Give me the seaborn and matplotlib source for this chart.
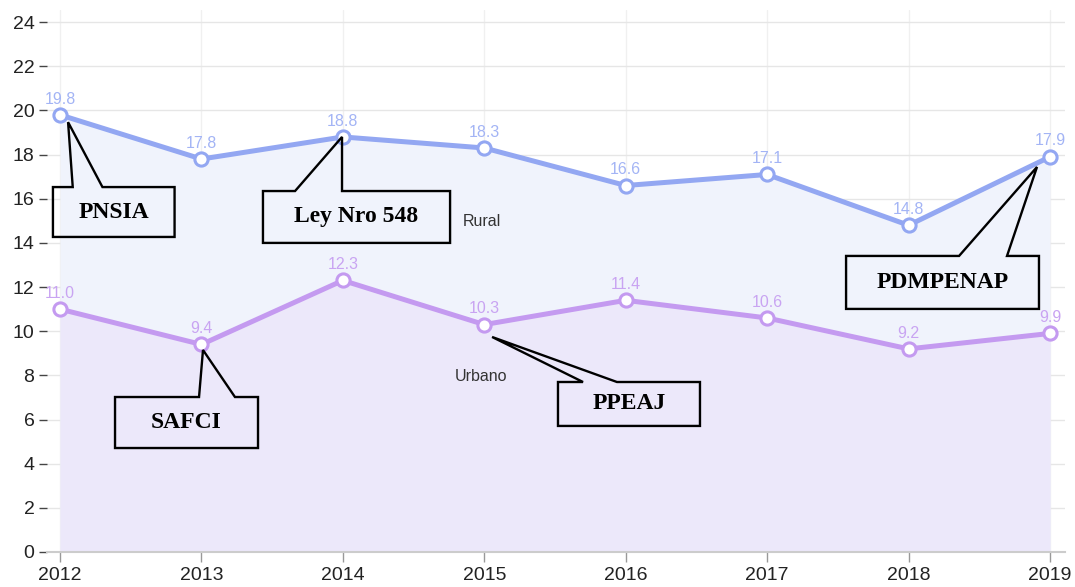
import matplotlib
matplotlib.use("Agg")
import matplotlib.pyplot as plt
from matplotlib.patches import Polygon
import seaborn as sns
import pandas as pd

years = [2012, 2013, 2014, 2015, 2016, 2017, 2018, 2019]
rural = [19.8, 17.8, 18.8, 18.3, 16.6, 17.1, 14.8, 17.9]
urbano = [11.0, 9.4, 12.3, 10.3, 11.4, 10.6, 9.2, 9.9]
y_ticks = list(range(0, 25, 2))

# callouts: label, box (x0, x1, y_bottom, y_top), tail base xs, tip
callouts = [
    ("PNSIA", (2011.95, 2012.81, 14.27, 16.53), (2012.09, 2012.30), (2012.057, 19.47)),
    ("Ley Nro 548", (2013.435, 2014.758, 14.0, 16.35), (2013.662, 2013.994), (2013.994, 18.8)),
    ("SAFCI", (2012.389, 2013.40, 4.71, 7.02), (2012.983, 2013.237), (2013.011, 9.15)),
    ("PPEAJ", (2015.521, 2016.525, 5.71, 7.70), (2015.698, 2015.938), (2015.055, 9.74)),
    ("PDMPENAP", (2017.558, 2018.922, 11.01, 13.41), (2018.357, 2018.696), (2018.908, 17.44)),
]

RURAL_C = "#93a7f2"
URB_C = "#c49af0"

sns.set_theme(style="white")
plt.rcParams["font.family"] = ["Liberation Sans", "DejaVu Sans"]

df = pd.DataFrame({"year": years * 2,
                   "value": rural + urbano,
                   "serie": ["Rural"] * len(years) + ["Urbano"] * len(years)})

fig = plt.figure(figsize=(10.75, 5.87), dpi=100)
ax = fig.add_axes([47 / 1075, 35 / 587, 1018 / 1075, 542 / 587])

ax.fill_between(years, 0, rural, color="#f0f3fc", zorder=1, lw=0)
ax.fill_between(years, 0, urbano, color="#ece8fa", zorder=1.1, lw=0)

sns.lineplot(data=df, x="year", y="value", hue="serie",
             palette={"Rural": RURAL_C, "Urbano": URB_C},
             lw=3.6, marker="o", markersize=9.5, markerfacecolor="white",
             markeredgewidth=2.2, legend=False, ax=ax, zorder=3)
for line in ax.lines:
    line.set_markeredgecolor(line.get_color())

for vals, c in [(rural, "#a3b4f5"), (urbano, "#c9a4f2")]:
    for x, v in zip(years, vals):
        ax.annotate(f"{v:.1f}", (x, v), xytext=(0, 6), textcoords="offset points",
                    ha="center", va="bottom", fontsize=11.5, color=c, zorder=4)

ax.text(2014.85, 14.95, "Rural", fontsize=11.5, color="#333333", va="center", ha="left")
ax.text(2014.79, 7.93, "Urbano", fontsize=11.5, color="#333333", va="center", ha="left")

for label, (x0, x1, yb, yt), (b0, b1), tip in callouts:
    pts = [(b0, yt), (x0, yt), (x0, yb), (x1, yb), (x1, yt), (b1, yt), tip]
    ax.add_patch(Polygon(pts, closed=True, fill=False, edgecolor="black",
                         lw=1.7, zorder=5, joinstyle="miter"))
    ax.text((x0 + x1) / 2, (yb + yt) / 2, label, ha="center", va="center",
            fontsize=17, fontweight="bold", family=["Liberation Serif", "DejaVu Serif"],
            color="black", zorder=6)

ax.set_xlim(2011.908, 2019.106)
ax.set_ylim(0, 24.55)
ax.set_xticks(years)
ax.set_yticks(y_ticks)
ax.set_xlabel("")
ax.set_ylabel("")
ax.grid(True, axis="y", color="#e6e6e6", lw=1, zorder=0)
ax.grid(True, axis="x", color="#f0f0f0", lw=1, zorder=0)
ax.set_axisbelow(True)
for s in ["top", "right", "left"]:
    ax.spines[s].set_visible(False)
ax.spines["bottom"].set_color("#cccccc")
ax.spines["bottom"].set_linewidth(1.5)
ax.tick_params(axis="y", left=True, length=6, width=1, color="#444444",
               labelsize=14, labelcolor="#222222", pad=3)
ax.tick_params(axis="x", bottom=True, length=7, width=1, color="#999999",
               labelsize=14, labelcolor="#222222", pad=4)

fig.savefig("out.png", dpi=100, facecolor="white")
